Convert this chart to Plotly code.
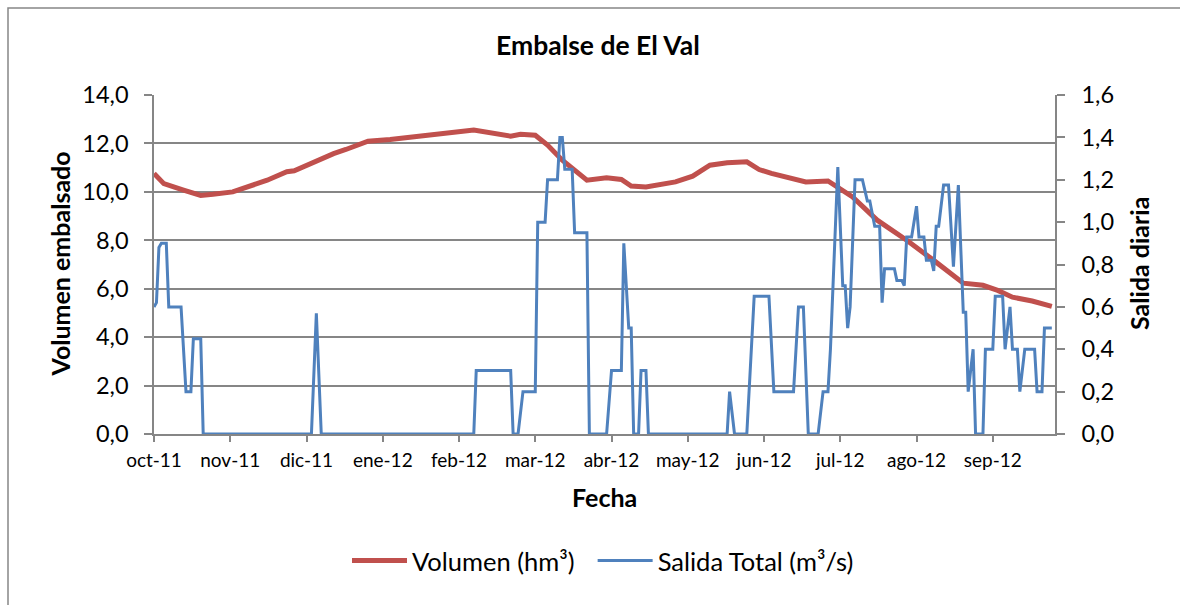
import plotly.graph_objects as go

# ---- Data ----
vol_dates = ["2011-10-01", "2011-10-05", "2011-10-13", "2011-10-17", "2011-10-20", "2011-10-25",
             "2011-11-02", "2011-11-16", "2011-11-24", "2011-11-27", "2011-12-05", "2011-12-13",
             "2011-12-18", "2011-12-27", "2012-01-05", "2012-01-14", "2012-01-18", "2012-01-25",
             "2012-02-02", "2012-02-08", "2012-02-23", "2012-02-27", "2012-03-04", "2012-03-09",
             "2012-03-15", "2012-03-19", "2012-03-25", "2012-04-02", "2012-04-08", "2012-04-12",
             "2012-04-18", "2012-04-30", "2012-05-07", "2012-05-14", "2012-05-21", "2012-05-29",
             "2012-06-03", "2012-06-08", "2012-06-17", "2012-06-22", "2012-07-01", "2012-07-05",
             "2012-07-11", "2012-07-21", "2012-08-02", "2012-08-13", "2012-08-25", "2012-09-02",
             "2012-09-08", "2012-09-14", "2012-09-22", "2012-09-30"]
vol_values = [10.76, 10.34, 10.07, 9.96, 9.85, 9.90,
              10.0, 10.48, 10.83, 10.87, 11.24, 11.58,
              11.75, 12.09, 12.16, 12.25, 12.34, 12.41,
              12.48, 12.55, 12.30, 12.38, 12.34, 11.93,
              11.31, 10.96, 10.48, 10.58, 10.51, 10.24,
              10.20, 10.41, 10.65, 11.10, 11.20, 11.24,
              10.92, 10.76, 10.55, 10.41, 10.45, 10.20,
              9.79, 8.83, 8.0, 7.17, 6.23, 6.14,
              5.93, 5.65, 5.49, 5.27]

out_dates = ["2011-10-01", "2011-10-02", "2011-10-03", "2011-10-04", "2011-10-06", "2011-10-07",
             "2011-10-12", "2011-10-14", "2011-10-16", "2011-10-17", "2011-10-20", "2011-10-21",
             "2011-12-04", "2011-12-06", "2011-12-08",
             "2012-02-08", "2012-02-09", "2012-02-23", "2012-02-24", "2012-02-26", "2012-02-28",
             "2012-03-04", "2012-03-05", "2012-03-08", "2012-03-09", "2012-03-13", "2012-03-14",
             "2012-03-15", "2012-03-16", "2012-03-19", "2012-03-20", "2012-03-25", "2012-03-26",
             "2012-04-02", "2012-04-04", "2012-04-08", "2012-04-09", "2012-04-11", "2012-04-12",
             "2012-04-13", "2012-04-15", "2012-04-16", "2012-04-18", "2012-04-19",
             "2012-05-21", "2012-05-22", "2012-05-24", "2012-05-29",
             "2012-06-01", "2012-06-07", "2012-06-09", "2012-06-17", "2012-06-19", "2012-06-21",
             "2012-06-23", "2012-06-27", "2012-06-29",
             "2012-07-01", "2012-07-02", "2012-07-05", "2012-07-07", "2012-07-08", "2012-07-09",
             "2012-07-10", "2012-07-12", "2012-07-15", "2012-07-17", "2012-07-18", "2012-07-20",
             "2012-07-22", "2012-07-23", "2012-07-24", "2012-07-28", "2012-07-29", "2012-07-31",
             "2012-08-01", "2012-08-02", "2012-08-04", "2012-08-06", "2012-08-07", "2012-08-09",
             "2012-08-10", "2012-08-12", "2012-08-13", "2012-08-14", "2012-08-15", "2012-08-17",
             "2012-08-19", "2012-08-21", "2012-08-23", "2012-08-25", "2012-08-26", "2012-08-27",
             "2012-08-29", "2012-08-30",
             "2012-09-02", "2012-09-03", "2012-09-06", "2012-09-07", "2012-09-10", "2012-09-11",
             "2012-09-13", "2012-09-14", "2012-09-16", "2012-09-17", "2012-09-19", "2012-09-23",
             "2012-09-24", "2012-09-26", "2012-09-27", "2012-09-30"]
out_values = [0.60, 0.62, 0.88, 0.90, 0.90, 0.60,
              0.60, 0.20, 0.20, 0.45, 0.45, 0.0,
              0.0, 0.57, 0.0,
              0.0, 0.30, 0.30, 0.0, 0.0, 0.20,
              0.20, 1.00, 1.00, 1.20, 1.20, 1.40,
              1.40, 1.25, 1.25, 0.95, 0.95, 0.0,
              0.0, 0.30, 0.30, 0.90, 0.50, 0.50,
              0.0, 0.0, 0.30, 0.30, 0.0,
              0.0, 0.20, 0.0, 0.0,
              0.65, 0.65, 0.20, 0.20, 0.60, 0.60,
              0.0, 0.0, 0.20,
              0.20, 0.40, 1.26, 0.70, 0.70, 0.50,
              0.60, 1.20, 1.20, 1.10, 1.10, 0.98,
              0.98, 0.62, 0.78, 0.78, 0.725, 0.725,
              0.70, 0.93, 0.93, 1.075, 0.93, 0.93,
              0.82, 0.82, 0.77, 0.98, 0.98, 1.175,
              1.175, 0.79, 1.175, 0.575, 0.575, 0.20,
              0.40, 0.0,
              0.0, 0.40, 0.40, 0.65, 0.65, 0.40,
              0.60, 0.40, 0.40, 0.20, 0.40, 0.40,
              0.20, 0.20, 0.50, 0.50]

tick_dates = ["2011-10-01", "2011-11-01", "2011-12-02", "2012-01-02", "2012-02-02", "2012-03-04",
              "2012-04-04", "2012-05-05", "2012-06-05", "2012-07-06", "2012-08-06", "2012-09-06"]
tick_labels = ["oct-11", "nov-11", "dic-11", "ene-12", "feb-12", "mar-12",
               "abr-12", "may-12", "jun-12", "jul-12", "ago-12", "sep-12"]

FONT = "Lato"
GREY = "#868686"

fig = go.Figure()
fig.add_trace(go.Scatter(x=vol_dates, y=vol_values, mode="lines", name="Volumen (hm³)\u00a0\u00a0",
                         line=dict(color="#C0504D", width=5), yaxis="y"))
fig.add_trace(go.Scatter(x=out_dates, y=out_values, mode="lines", name="Salida Total (m³/s)",
                         line=dict(color="#4F81BD", width=3), yaxis="y2"))

L, R, T, B = 154, 125, 95, 171
W, H = 1180, 605
pw, ph = W - L - R, H - T - B


def px(x):
    return (x - L) / pw


def py(y):
    return (H - B - y) / ph


fig.update_layout(
    width=W, height=H,
    margin=dict(l=L, r=R, t=T, b=B),
    paper_bgcolor="white", plot_bgcolor="white",
    separators=",.",
    font=dict(family=FONT, color="black"),
    showlegend=True,
    legend=dict(orientation="h", x=px(603), xanchor="center", y=py(561), yanchor="middle",
                font=dict(size=25.5, family=FONT), itemwidth=55),
    xaxis=dict(type="date", range=["2011-10-01", "2012-10-01 07:00"],
               tickvals=tick_dates, ticktext=tick_labels,
               ticks="outside", ticklen=6, tickcolor=GREY, tickwidth=1.5,
               showline=True, linecolor=GREY, linewidth=1.5, showgrid=False, zeroline=False,
               tickfont=dict(size=19, family=FONT), ticklabelstandoff=2),
    yaxis=dict(range=[0, 14], dtick=2, tick0=0, tickformat=".1f",
               ticks="outside", ticklen=8, tickcolor=GREY, tickwidth=1.5,
               showline=True, linecolor=GREY, linewidth=1.5,
               showgrid=True, gridcolor=GREY, gridwidth=1.5, zeroline=False,
               tickfont=dict(size=23.5, family=FONT), ticklabelstandoff=11),
    yaxis2=dict(range=[0, 1.6], dtick=0.2, tick0=0, tickformat=".1f", overlaying="y", side="right",
                ticks="outside", ticklen=8, tickcolor=GREY, tickwidth=1.5,
                showline=True, linecolor=GREY, linewidth=1.5, showgrid=False, zeroline=False,
                tickfont=dict(size=23.5, family=FONT), ticklabelstandoff=12),
    annotations=[
        dict(text="<b>Embalse de El Val</b>", x=px(597.5), y=py(45), xref="paper", yref="paper",
             showarrow=False, font=dict(size=26.5, family=FONT), xanchor="center", yanchor="middle"),
        dict(text="<b>Volumen embalsado</b>", x=px(59), y=py(264.5), xref="paper", yref="paper",
             showarrow=False, textangle=-90, font=dict(size=25, family=FONT),
             xanchor="center", yanchor="middle"),
        dict(text="<b>Salida diaria</b>", x=px(1138.5), y=py(263.5), xref="paper", yref="paper",
             showarrow=False, textangle=-90, font=dict(size=25, family=FONT),
             xanchor="center", yanchor="middle"),
        dict(text="<b>Fecha</b>", x=px(604), y=py(497), xref="paper", yref="paper",
             showarrow=False, font=dict(size=25, family=FONT), xanchor="center", yanchor="middle"),
    ],
    shapes=[dict(type="rect", xref="paper", yref="paper", x0=px(8), y0=py(8), x1=px(1200), y1=py(620),
                 line=dict(color=GREY, width=1.5), layer="below")],
)

fig.write_html("out.html", config={"displayModeBar": False},
               post_script="document.body.style.margin='0px';")
